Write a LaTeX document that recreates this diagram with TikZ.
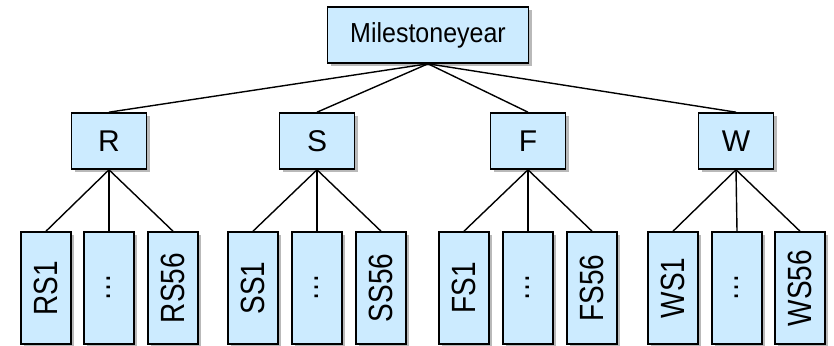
\documentclass[tikz,border=0pt]{standalone}
\usepackage{fontspec}
\setmainfont{Liberation Sans}
\usetikzlibrary{shadows}
\definecolor{boxblue}{rgb}{0.80,0.92,1.00}
\tikzset{
  box/.style={draw=black, line width=0.8pt, fill=boxblue, inner sep=0pt,
    drop shadow={shadow xshift=1.5pt, shadow yshift=-1.5pt, fill=black!50, opacity=0.55}},
  topbox/.style={box, minimum width=100.5pt, minimum height=28pt,
    font=\fontsize{12.5}{15}\selectfont},
  midbox/.style={box, minimum width=37.5pt, minimum height=28pt,
    font=\fontsize{15}{17}\selectfont},
  leafbox/.style={box, minimum width=25pt, minimum height=56pt,
    font=\fontsize{14}{16}\selectfont},
  link/.style={draw=black, line width=0.7pt}
}
\newcommand{\vtext}[1]{\rotatebox{90}{\scalebox{1}[1.2]{#1}}}
\newcommand{\htext}[1]{\scalebox{1}[1.1]{#1}}

\begin{document}
\begin{tikzpicture}[x=0.5pt,y=-0.5pt]
  \useasboundingbox (0,0) rectangle (834,346);
  % top
  \node[topbox] (milestone) at (428,35) {\htext{Milestoneyear}};
  % seasons
  \node[midbox] (r) at (109,141) {R};
  \node[midbox] (s) at (317,141) {S};
  \node[midbox] (f) at (528,141) {F};
  \node[midbox] (w) at (736,141) {W};
  % leaves
  \node[leafbox] (rs1) at (46,288) {\vtext{RS1}};
  \node[leafbox] (rdots) at (109,288) {\vtext{\dots}};
  \node[leafbox] (rs56) at (173,288) {\vtext{RS56}};
  \node[leafbox] (ss1) at (253,288) {\vtext{SS1}};
  \node[leafbox] (sdots) at (317,288) {\vtext{\dots}};
  \node[leafbox] (ss56) at (381,288) {\vtext{SS56}};
  \node[leafbox] (fs1) at (464,288) {\vtext{FS1}};
  \node[leafbox] (fdots) at (528,288) {\vtext{\dots}};
  \node[leafbox] (fs56) at (592,288) {\vtext{FS56}};
  \node[leafbox] (ws1) at (673,288) {\vtext{WS1}};
  \node[leafbox] (wdots) at (737,288) {\vtext{\dots}};
  \node[leafbox] (ws56) at (800,288) {\vtext{WS56}};
  % edges
  \draw[link] (milestone.south) -- (r.north);
  \draw[link] (milestone.south) -- (s.north);
  \draw[link] (milestone.south) -- (f.north);
  \draw[link] (milestone.south) -- (w.north);
  \draw[link] (r.south) -- (rs1.north);
  \draw[link] (r.south) -- (rdots.north);
  \draw[link] (r.south) -- (rs56.north);
  \draw[link] (s.south) -- (ss1.north);
  \draw[link] (s.south) -- (sdots.north);
  \draw[link] (s.south) -- (ss56.north);
  \draw[link] (f.south) -- (fs1.north);
  \draw[link] (f.south) -- (fdots.north);
  \draw[link] (f.south) -- (fs56.north);
  \draw[link] (w.south) -- (ws1.north);
  \draw[link] (w.south) -- (wdots.north);
  \draw[link] (w.south) -- (ws56.north);
\end{tikzpicture}
\end{document}
